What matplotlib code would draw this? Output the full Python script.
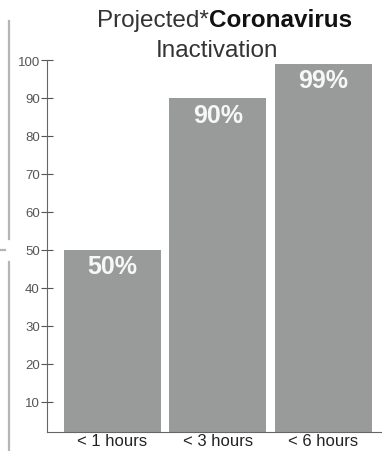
import matplotlib.pyplot as plt
from matplotlib.lines import Line2D

categories = ["< 1 hours", "< 3 hours", "< 6 hours"]
values = [50, 90, 99]
labels = ["50%", "90%", "99%"]

W, H = 382, 452
fig = plt.figure(figsize=(W / 100, H / 100), dpi=100)
plt.rcParams['font.family'] = ['Liberation Sans', 'DejaVu Sans']

ax = fig.add_axes([47 / W, 1 - 433 / H, 1 - 47 / W, (433 - 61) / H])

x = list(range(len(categories)))
ax.bar(x, values, width=0.92, color='#999b9b', zorder=2)

for i, v in enumerate(values):
    ax.annotate(labels[i], (i, v), xytext=(0, -12), textcoords='offset points',
                ha='center', va='center', color='#f7f7f7',
                fontsize=18, fontweight='bold')

ax.set_xlim(-0.62, 2.555)
ax.set_ylim(2, 100)
ax.set_yticks(range(10, 101, 10))
ax.set_xticks(x)
ax.set_xticklabels(categories)

for s in ['top', 'right']:
    ax.spines[s].set_visible(False)
ax.spines['left'].set_color('#666666')
ax.spines['bottom'].set_color('#666666')
ax.tick_params(axis='y', direction='inout', length=8.5, width=0.8, color='#555555',
               labelsize=9.5, labelcolor='#555555', pad=1)
ax.tick_params(axis='x', length=0, labelsize=12, labelcolor='#222222', pad=1)

# title, mixed weights
fig.text(209 / W, 1 - 27 / H, "Projected*", ha='right', va='baseline',
         fontsize=17.5, color='#333333')
fig.text(209 / W, 1 - 27 / H, "Coronavirus", ha='left', va='baseline',
         fontsize=17.5, color='#111111', fontweight='bold')
fig.text(217 / W, 1 - 57 / H, "Inactivation", ha='center', va='baseline',
         fontsize=17.5, color='#333333')

# decorative bracket at the left edge
lc = '#b3b5b7'
fig.add_artist(Line2D([9 / W, 9 / W], [1 - 22 / H, 1 - 240 / H], color=lc, lw=1.6))
fig.add_artist(Line2D([9 / W, 9 / W], [1 - 263 / H, 0], color=lc, lw=1.6))
fig.add_artist(Line2D([0, 5 / W], [1 - 251 / H, 1 - 251 / H], color=lc, lw=1.6))

fig.savefig('out.png', dpi=100)
